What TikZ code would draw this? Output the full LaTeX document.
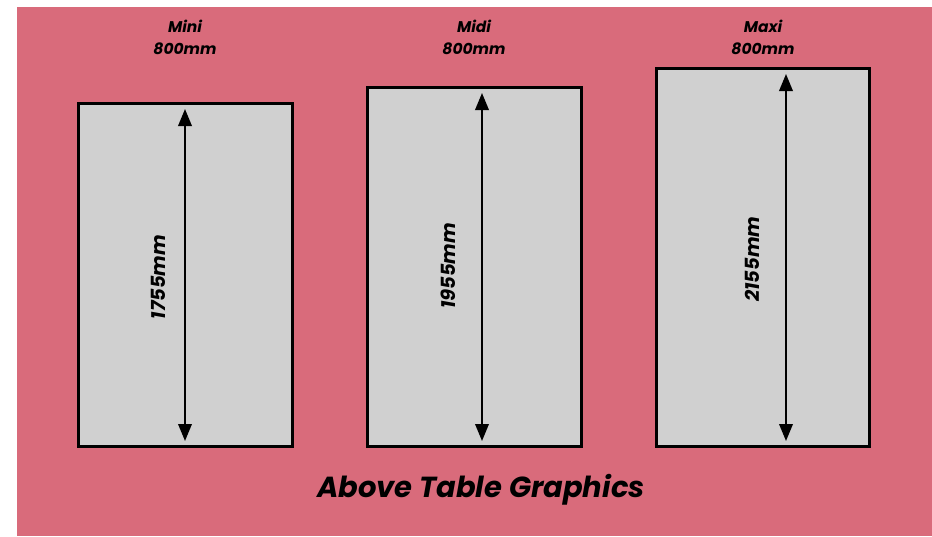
\documentclass[tikz,border=0pt]{standalone}
\usepackage{fontspec}
\setmainfont{Poppins}
\usetikzlibrary{arrows.meta}
\definecolor{bgpink}{HTML}{D96B7B}
\definecolor{boxgray}{HTML}{D0D0D0}
\tikzset{
  panel/.style={draw=black, line width=3pt, fill=boxgray},
  dim/.style={line width=2pt, {Triangle[length=17pt,width=13.5pt]}-{Triangle[length=17pt,width=13.5pt]}},
  head/.style={font=\fontsize{15.5}{22}\selectfont\bfseries\itshape, align=center},
  dimlabel/.style={font=\fontsize{19.5}{24}\selectfont\bfseries\itshape, rotate=90},
  titletext/.style={font=\fontsize{29}{36}\selectfont\bfseries\itshape}
}
\begin{document}
\begin{tikzpicture}[x=1pt,y=-1pt]
\useasboundingbox (0,0) rectangle (932,536);
\fill[white] (0,0) rectangle (932,536);
\fill[bgpink] (17,7) rectangle (932,536);
% boxes
\draw[panel] (78,103) rectangle (292,446);
\draw[panel] (367,87) rectangle (581,446);
\draw[panel] (656,68) rectangle (869,446);
% arrow end points
\coordinate (miniT) at (185,109);
\coordinate (miniB) at (185,441);
\coordinate (midiT) at (482,93);
\coordinate (midiB) at (482,441);
\coordinate (maxiT) at (786,74);
\coordinate (maxiB) at (786,441);
\draw[dim] (miniB) -- (miniT);
\draw[dim] (midiB) -- (midiT);
\draw[dim] (maxiB) -- (maxiT);
% headings
\node[head] (hmini) at (185,37) {Mini\\800mm};
\node[head] (hmidi) at (474,37) {Midi\\800mm};
\node[head] (hmaxi) at (763,37) {Maxi\\800mm};
% dimension labels
\node[dimlabel] (lmini) at (158,277) {1755mm};
\node[dimlabel] (lmidi) at (448,266) {1955mm};
\node[dimlabel] (lmaxi) at (752,259) {2155mm};
% title
\node[titletext] (title) at (481,490) {Above Table Graphics};
\end{tikzpicture}
\end{document}
